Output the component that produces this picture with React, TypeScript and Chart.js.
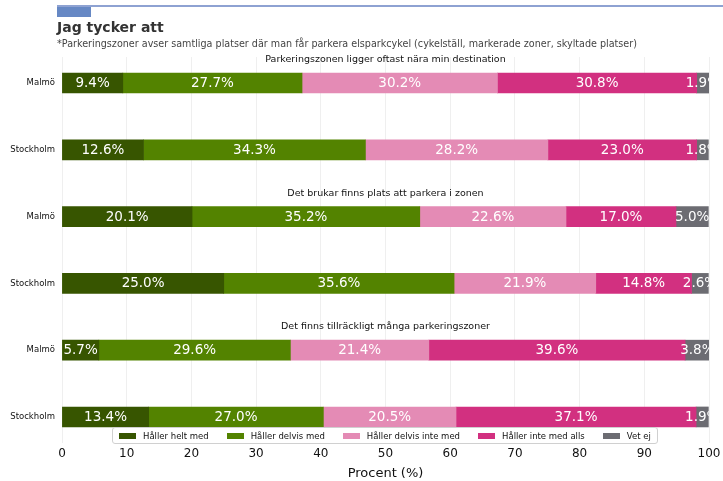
import React, { useEffect, useRef } from "react";
import { Chart, registerables } from "chart.js";

Chart.register(...registerables);

const cities = ["Malmö", "Stockholm", "Malmö", "Stockholm", "Malmö", "Stockholm"];
const groupTitles = [
  "Parkeringszonen ligger oftast nära min destination",
  "Det brukar finns plats att parkera i zonen",
  "Det finns tillräckligt många parkeringszoner",
];
const seriesNames = [
  "Håller helt med",
  "Håller delvis med",
  "Håller delvis inte med",
  "Håller inte med alls",
  "Vet ej",
];
const helt = [9.4, 12.6, 20.1, 25.0, 5.7, 13.4];
const delvis = [27.7, 34.3, 35.2, 35.6, 29.6, 27.0];
const delvisInte = [30.2, 28.2, 22.6, 21.9, 21.4, 20.5];
const inteAlls = [30.8, 23.0, 17.0, 14.8, 39.6, 37.1];
const vetEj = [1.9, 1.8, 5.0, 2.6, 3.8, 1.9];
const xTicks = [0, 10, 20, 30, 40, 50, 60, 70, 80, 90, 100];

const seriesValues = [helt, delvis, delvisInte, inteAlls, vetEj];
const colors = ["#375500", "#538300", "#e48bb5", "#d23080", "#6c6c72"];

const FONT = "'DejaVu Sans', sans-serif";

export default function App() {
  const ref = useRef<HTMLCanvasElement | null>(null);

  useEffect(() => {
    const labelPlugin = {
      id: "barLabels",
      afterDatasetsDraw(chart: any) {
        const { ctx, chartArea } = chart;
        ctx.save();
        ctx.beginPath();
        ctx.rect(chartArea.left, chartArea.top, chartArea.right - chartArea.left, chartArea.bottom - chartArea.top);
        ctx.clip();
        ctx.fillStyle = "#ffffff";
        ctx.font = `13.5px ${FONT}`;
        ctx.textAlign = "center";
        ctx.textBaseline = "middle";
        chart.data.datasets.forEach((ds: any, di: number) => {
          const meta = chart.getDatasetMeta(di);
          meta.data.forEach((bar: any, i: number) => {
            const v = ds.data[i].x;
            ctx.fillText(v.toFixed(1) + "%", (bar.x + bar.base) / 2, bar.y + 0.5);
          });
        });
        ctx.restore();
        const y = chart.scales.y;
        ctx.save();
        ctx.fillStyle = "#111";
        ctx.font = `9.5px ${FONT}`;
        ctx.textAlign = "center";
        ctx.textBaseline = "middle";
        groupTitles.forEach((t, g) => {
          ctx.fillText(t, (chartArea.left + chartArea.right) / 2, y.getPixelForValue(g * 2 - 0.35));
        });
        ctx.restore();
      },
    };

    const chart = new Chart(ref.current!, {
      type: "bar",
      data: {
        datasets: seriesValues.map((vals, d) => ({
          label: seriesNames[d],
          data: vals.map((v, i) => ({ x: v, y: i })),
          backgroundColor: colors[d],
          borderWidth: 0,
          barThickness: 20,
        })),
      },
      options: {
        indexAxis: "y",
        animation: false,
        responsive: false,
        devicePixelRatio: 1,
        layout: { padding: { top: 57, right: 14, left: 0, bottom: 0 } },
        plugins: { legend: { display: false }, tooltip: { enabled: false } },
        scales: {
          x: {
            type: "linear",
            stacked: true,
            min: 0,
            max: 100,
            afterBuildTicks: (s: any) => {
              s.ticks = xTicks.map((v) => ({ value: v }));
            },
            afterFit: (s: any) => {
              s.height = 38;
              s.paddingRight = 0;
              s.paddingLeft = 0;
            },
            grid: { color: "#ebebeb", lineWidth: 0.8, drawTicks: false },
            border: { display: false },
            ticks: { color: "#111", font: { family: FONT, size: 12 }, padding: 4 },
            title: {
              display: true,
              text: "Procent (%)",
              color: "#111",
              font: { family: FONT, size: 13 },
              padding: { top: 0, bottom: 0 },
            },
          },
          y: {
            type: "linear",
            stacked: true,
            reverse: true,
            offset: false,
            min: -0.39,
            max: 5.39,
            afterBuildTicks: (s: any) => {
              s.ticks = cities.map((_, i) => ({ value: i }));
            },
            afterFit: (s: any) => {
              s.width = 62;
              s.paddingTop = 0;
              s.paddingBottom = 0;
            },
            grid: { display: false, drawTicks: false, offset: false },
            border: { display: false },
            ticks: {
              color: "#111",
              font: { family: FONT, size: 8.5 },
              padding: 7,
              callback: (v: any) => cities[v as number],
            },
          },
        },
      },
      plugins: [labelPlugin],
    } as any);
    return () => chart.destroy();
  }, []);

  return (
    <div style={{ position: "fixed", left: 0, top: 0, width: 723, height: 481, background: "#fff", fontFamily: FONT }}>
      <canvas ref={ref} width={723} height={481} style={{ position: "absolute", left: 0, top: 0 }} />
      <div style={{ position: "absolute", left: 57, top: 5, width: 666, height: 1.5, background: "#8ea2d2" }} />
      <div style={{ position: "absolute", left: 57, top: 7, width: 34, height: 10, background: "#6688c4" }} />
      <div style={{ position: "absolute", left: 57, top: 17, fontSize: 14, fontWeight: "bold", color: "#333", lineHeight: "20px" }}>
        Jag tycker att
      </div>
      <div style={{ position: "absolute", left: 57, top: 37, fontSize: 9.6, color: "#444", lineHeight: "14px", whiteSpace: "nowrap" }}>
        *Parkeringszoner avser samtliga platser där man får parkera elsparkcykel (cykelställ, markerade zoner, skyltade platser)
      </div>
      <div
        style={{
          position: "absolute",
          left: 112,
          top: 427,
          height: 15,
          padding: "0 6px",
          background: "rgba(255,255,255,0.9)",
          border: "1px solid #d0d0d0",
          borderRadius: 3,
          display: "flex",
          alignItems: "center",
          gap: 18,
          fontSize: 8.5,
          color: "#111",
          whiteSpace: "nowrap",
        }}
      >
        {seriesNames.map((n, i) => (
          <div key={n} style={{ display: "flex", alignItems: "center", gap: 7 }}>
            <span style={{ display: "inline-block", width: 17, height: 6, background: colors[i] }} />
            <span>{n}</span>
          </div>
        ))}
      </div>
    </div>
  );
}
